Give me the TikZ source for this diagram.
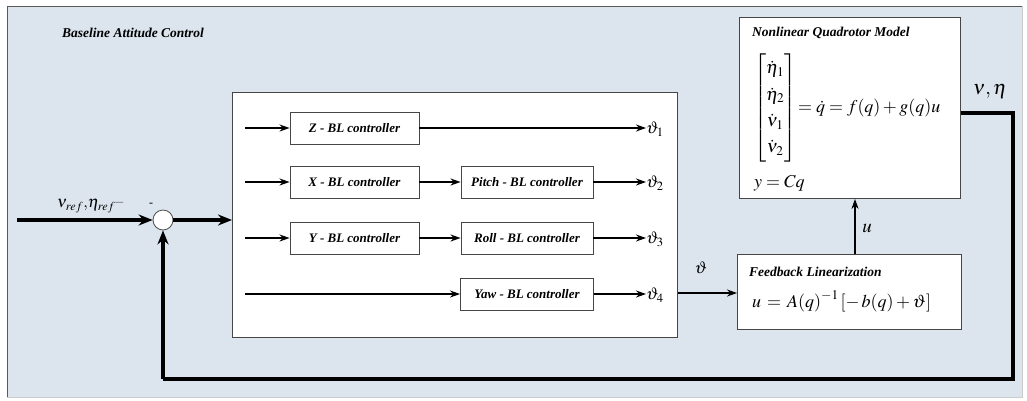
\documentclass[tikz,border=0pt]{standalone}
\usepackage{amsmath}
\usepackage{mathptmx}
\usepackage[no-math]{fontspec}
\setmainfont{Liberation Serif}
\usetikzlibrary{arrows.meta}
\definecolor{bgcol}{RGB}{220,229,238}
\definecolor{edgecol}{RGB}{70,70,70}
\tikzset{
  blk/.style={draw=edgecol, fill=white, line width=0.9pt, minimum height=32pt, inner sep=0pt,
              font=\fontsize{13}{15}\selectfont\bfseries\itshape},
  panel/.style={draw=edgecol, fill=white, line width=0.9pt, anchor=north west, inner sep=0pt},
  arr/.style={line width=1.4pt, -{Stealth[length=10pt,width=7pt]}},
  thickarr/.style={line width=3.2pt, -{Stealth[length=14pt,width=11pt]}},
  thickline/.style={line width=3.2pt},
  ttl/.style={anchor=west, inner sep=0pt, font=\fontsize{13.5}{16}\selectfont\bfseries\itshape},
  eqn/.style={anchor=west, inner sep=0pt, font=\fontsize{18}{21}\selectfont},
  sym/.style={inner sep=0pt, font=\fontsize{17}{20}\selectfont},
}
\begin{document}
\begin{tikzpicture}[x=1pt,y=-1pt]
\useasboundingbox (0,0) rectangle (1027,400);
\fill[bgcol] (7,6) rectangle (1022,397);
\draw[gray!70!black, line width=1pt] (7,397) -- (7,6) -- (1022,6);
\draw[gray!40, line width=0.6pt] (1022,6) -- (1022,397) -- (7,397);

\node[ttl] (title) at (62,33) {Baseline Attitude Control};

% big controller box
\node[panel, minimum width=445pt, minimum height=245pt] (big) at (232,92) {};

% controller blocks
\node[blk, minimum width=129pt] (zc) at (354.5,128) {Z - BL controller};
\node[blk, minimum width=129pt] (xc) at (354.5,182) {X - BL controller};
\node[blk, minimum width=132pt] (pc) at (527,182) {Pitch - BL controller};
\node[blk, minimum width=129pt] (yc) at (354.5,238) {Y - BL controller};
\node[blk, minimum width=132pt] (rc) at (527,238) {Roll - BL controller};
\node[blk, minimum width=133pt] (wc) at (527,294) {Yaw - BL controller};

% inputs
\coordinate (iz) at (245,128);
\coordinate (ix) at (245,182);
\coordinate (iy) at (245,238);
\coordinate (iw) at (245,294);
\draw[arr] (iz) -- (zc);
\draw[arr] (ix) -- (xc);
\draw[arr] (iy) -- (yc);
\draw[arr] (iw) -- (wc);
\draw[arr] (xc) -- (pc);
\draw[arr] (yc) -- (rc);

% outputs
\node[sym, anchor=west] (t1) at (646,129) {$\vartheta_1$};
\node[sym, anchor=west] (t2) at (646,183) {$\vartheta_2$};
\node[sym, anchor=west] (t3) at (646,239) {$\vartheta_3$};
\node[sym, anchor=west] (t4) at (646,295) {$\vartheta_4$};
\draw[arr] (zc) -- (t1.west |- zc);
\draw[arr] (pc) -- (t2.west |- pc);
\draw[arr] (rc) -- (t3.west |- rc);
\draw[arr] (wc) -- (t4.west |- wc);

% summing junction
\node[circle, draw=gray!60!black, fill=white, line width=0.8pt, minimum size=20pt, inner sep=0pt] (sum) at (163,220) {};
\coordinate (in) at (17,220);
\draw[thickarr] (in) -- (sum);
\node[inner sep=0pt, anchor=south west, font=\fontsize{16.5}{18}\selectfont] (reflab) at (57,213) {$\nu_{ref}{,}\eta_{ref}$\raisebox{3pt}{\fontsize{8}{10}\selectfont---}};
\node[inner sep=0pt, font=\fontsize{12}{12}\selectfont] (minus) at (151,205) {-};
\draw[thickarr] (sum) -- (big.west |- sum);

% nonlinear model
\node[panel, minimum width=221pt, minimum height=181pt] (model) at (739,17) {};
\node[ttl] (mtitle) at (752,33) {Nonlinear Quadrotor Model};
\node[eqn] (meq) at (754,108) {\renewcommand{\arraystretch}{1.25}$\begin{bmatrix}\dot\eta_1\\ \dot\eta_2\\ \dot\nu_1\\ \dot\nu_2\end{bmatrix} \!= \dot q = f(q) + g(q)u$};
\node[eqn] (meq2) at (754,183) {$y = Cq$};

% feedback linearization
\node[panel, minimum width=224pt, minimum height=75pt] (fl) at (737,254) {};
\node[ttl] (ftitle) at (749,272) {Feedback Linearization};
\node[eqn] (feq) at (752,301) {$u \,=\, A\!\left(q\right)^{-1}\left[-\,b\!\left(q\right)+\vartheta\right]$};

% theta arrow
\coordinate (thy) at (0,293);
\draw[arr] (big.east |- thy) -- (fl.west |- thy);
\node[sym] (thlab) at (701,268) {$\vartheta$};

% u arrow
\coordinate (ux) at (855,0);
\draw[arr] (fl.north -| ux) -- (model.south -| ux);
\node[sym, font=\fontsize{19}{20}\selectfont] (ulab) at (867,228) {$u$};

% output and feedback
\coordinate (oy) at (0,113);
\coordinate (fbr) at (1013,113);
\coordinate (fbb) at (1013,379);
\coordinate (fbl) at (163,379);
\draw[thickline] (model.east |- oy) -- (fbr) -- (fbb) -- (fbl);
\draw[thickarr] (fbl) -- (sum.south);
\node[sym, font=\fontsize{20}{22}\selectfont] (outlab) at (990,91) {$\nu,\eta$};
\end{tikzpicture}
\end{document}
